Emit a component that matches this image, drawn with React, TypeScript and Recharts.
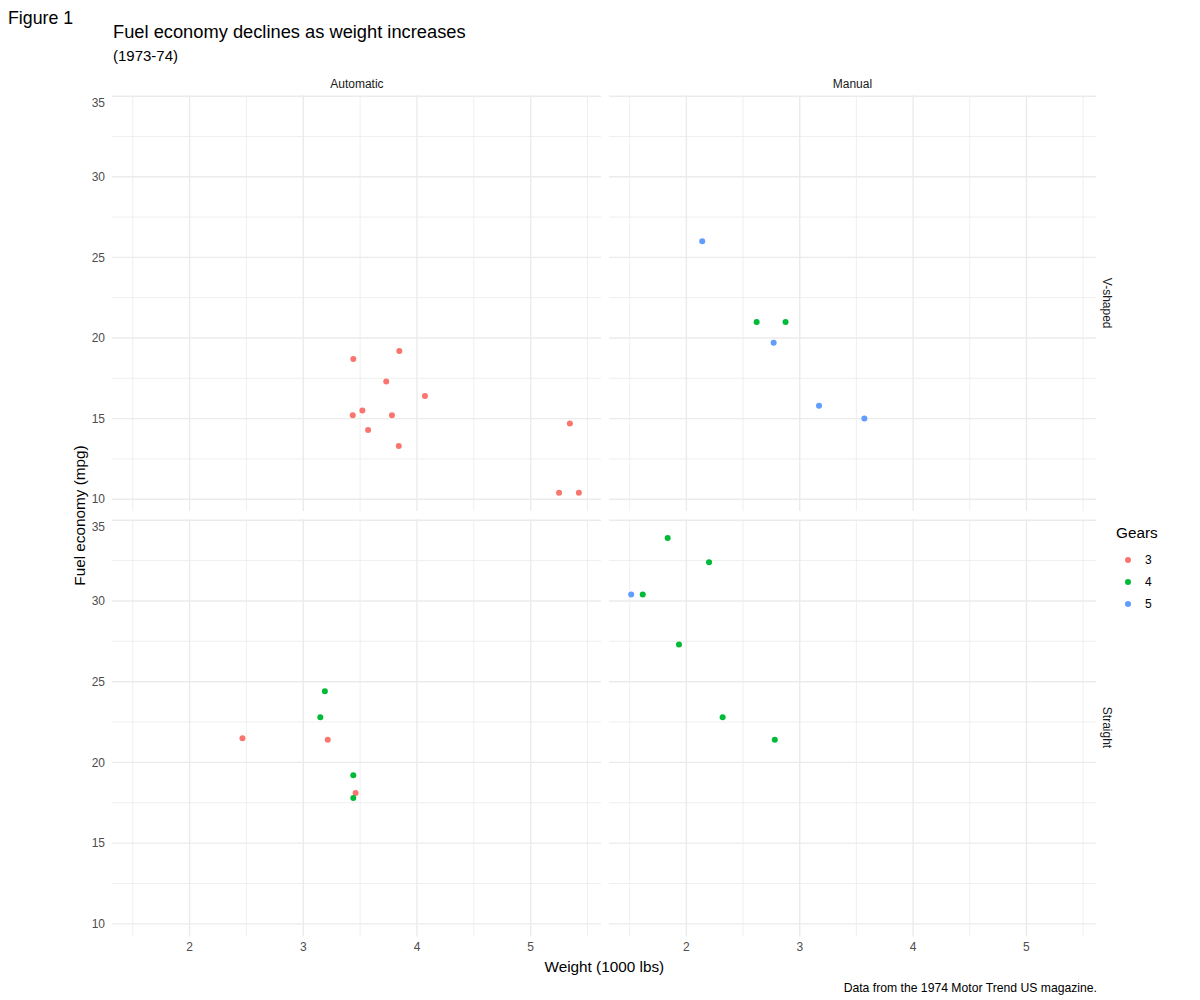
import React from "react";
import { ScatterChart, Scatter, XAxis, YAxis, ReferenceLine } from "recharts";

const carNames = [
  "Mazda RX4", "Mazda RX4 Wag", "Datsun 710", "Hornet 4 Drive", "Hornet Sportabout", "Valiant",
  "Duster 360", "Merc 240D", "Merc 230", "Merc 280", "Merc 280C", "Merc 450SE", "Merc 450SL",
  "Merc 450SLC", "Cadillac Fleetwood", "Lincoln Continental", "Chrysler Imperial", "Fiat 128",
  "Honda Civic", "Toyota Corolla", "Toyota Corona", "Dodge Challenger", "AMC Javelin", "Camaro Z28",
  "Pontiac Firebird", "Fiat X1-9", "Porsche 914-2", "Lotus Europa", "Ford Pantera L", "Ferrari Dino",
  "Maserati Bora", "Volvo 142E",
];
const weights = [
  2.62, 2.875, 2.32, 3.215, 3.44, 3.46, 3.57, 3.19, 3.15, 3.44, 3.44, 4.07, 3.73, 3.78, 5.25, 5.424,
  5.345, 2.2, 1.615, 1.835, 2.465, 3.52, 3.435, 3.84, 3.845, 1.935, 2.14, 1.513, 3.17, 2.77, 3.57, 2.78,
];
const mpgValues = [
  21.0, 21.0, 22.8, 21.4, 18.7, 18.1, 14.3, 24.4, 22.8, 19.2, 17.8, 16.4, 17.3, 15.2, 10.4, 10.4,
  14.7, 32.4, 30.4, 33.9, 21.5, 15.5, 15.2, 13.3, 19.2, 27.3, 26.0, 30.4, 15.8, 19.7, 15.0, 21.4,
];
const vsValues = [0, 0, 1, 1, 0, 1, 0, 1, 1, 1, 1, 0, 0, 0, 0, 0, 0, 1, 1, 1, 1, 0, 0, 0, 0, 1, 0, 1, 0, 0, 0, 1];
const amValues = [1, 1, 1, 0, 0, 0, 0, 0, 0, 0, 0, 0, 0, 0, 0, 0, 0, 1, 1, 1, 0, 0, 0, 0, 0, 1, 1, 1, 1, 1, 1, 1];
const gearValues = [4, 4, 4, 3, 3, 3, 3, 4, 4, 4, 4, 3, 3, 3, 3, 3, 3, 4, 4, 4, 3, 3, 3, 3, 3, 4, 5, 5, 5, 5, 5, 4];

const gearLevels = [3, 4, 5];
const gearColors = ["#F8766D", "#00BA38", "#619CFF"];
const amLabels = ["Automatic", "Manual"];
const vsLabels = ["V-shaped", "Straight"];

const xTicks = [2, 3, 4, 5];
const xMinor = [1.5, 2.5, 3.5, 4.5, 5.5];
const yTicks = [10, 15, 20, 25, 30, 35];
const yMinor = [12.5, 17.5, 22.5, 27.5, 32.5];
const xDomain = [1.3175, 5.6196];
const yDomain = [9.225, 35.075];

const FONT = "'Liberation Sans', Arial, Helvetica, sans-serif";

const cols = [
  { left: 112.4, right: 601.5 },
  { left: 608.6, right: 1096.3 },
];
const rows = [
  { top: 94.8, bottom: 511.5 },
  { top: 518.8, bottom: 936.2 },
];

function panelData(vs: number, am: number, gear: number) {
  const out: { name: string; wt: number; mpg: number }[] = [];
  for (let i = 0; i < carNames.length; i++) {
    if (vsValues[i] === vs && amValues[i] === am && gearValues[i] === gear) {
      out.push({ name: carNames[i], wt: weights[i], mpg: mpgValues[i] });
    }
  }
  return out;
}

const Dot = (color: string) => (props: any) => (
  <circle cx={props.cx} cy={props.cy} r={3} fill={color} />
);

function Panel({ r, c }: { r: number; c: number }) {
  const col = cols[c];
  const row = rows[r];
  const showY = c === 0;
  const showX = r === 1;
  const yW = showY ? 40 : 0;
  const xH = showX ? 30 : 0;
  const plotW = col.right - col.left;
  const plotH = row.bottom - row.top;
  const vs = r;
  const am = c;
  const tickStyle = { fill: "#4D4D4D", fontSize: 12, fontFamily: FONT };
  return (
    <div style={{ position: "absolute", left: col.left - yW, top: row.top }}>
      <ScatterChart
        width={plotW + yW}
        height={plotH + xH}
        margin={{ top: 0, right: 0, bottom: 0, left: 0 }}
      >
        <XAxis
          type="number"
          dataKey="wt"
          domain={xDomain}
          ticks={xTicks}
          allowDataOverflow
          hide={!showX}
          height={xH}
          axisLine={false}
          tickLine={false}
          tickSize={4}
          tickMargin={2}
          tick={tickStyle}
        />
        <YAxis
          type="number"
          dataKey="mpg"
          domain={yDomain}
          ticks={yTicks}
          allowDataOverflow
          hide={!showY}
          width={yW}
          axisLine={false}
          tickLine={false}
          tickSize={5}
          tickMargin={2}
          tick={tickStyle}
        />
        {xMinor.map((v) => (
          <ReferenceLine key={"xm" + v} x={v} stroke="#EBEBEB" strokeWidth={0.8} />
        ))}
        {yMinor.map((v) => (
          <ReferenceLine key={"ym" + v} y={v} stroke="#EBEBEB" strokeWidth={0.8} />
        ))}
        {xTicks.map((v) => (
          <ReferenceLine key={"xM" + v} x={v} stroke="#EBEBEB" strokeWidth={1.4} />
        ))}
        {yTicks.map((v) => (
          <ReferenceLine key={"yM" + v} y={v} stroke="#EBEBEB" strokeWidth={1.4} />
        ))}
        {gearLevels.map((g, gi) => (
          <Scatter
            key={g}
            name={String(g)}
            data={panelData(vs, am, g)}
            fill={gearColors[gi]}
            shape={Dot(gearColors[gi])}
            isAnimationActive={false}
          />
        ))}
      </ScatterChart>
    </div>
  );
}

export default function App() {
  const midX = (cols[0].left + cols[1].right) / 2;
  const midY = (rows[0].top + rows[1].bottom) / 2;
  return (
    <div
      style={{
        position: "absolute",
        left: 0,
        top: 0,
        width: 1200,
        height: 1000,
        background: "#FFFFFF",
        fontFamily: FONT,
      }}
    >
      {[0, 1].map((r) => [0, 1].map((c) => <Panel key={r + "-" + c} r={r} c={c} />))}
      <svg
        width={1200}
        height={1000}
        style={{ position: "absolute", left: 0, top: 0, pointerEvents: "none" }}
        fontFamily={FONT}
      >
        <text x={8} y={24} fontSize={17.8} fill="#000000">Figure 1</text>
        <text x={113} y={38} fontSize={18.3} fill="#000000">Fuel economy declines as weight increases</text>
        <text x={113} y={61} fontSize={15} fill="#000000">(1973-74)</text>
        {cols.map((col, i) => (
          <text
            key={"st" + i}
            x={(col.left + col.right) / 2}
            y={88}
            fontSize={12}
            fill="#1A1A1A"
            textAnchor="middle"
          >
            {amLabels[i]}
          </text>
        ))}
        {rows.map((row, i) => {
          const cy = (row.top + row.bottom) / 2;
          return (
            <text
              key={"sr" + i}
              x={1103}
              y={cy}
              fontSize={12}
              fill="#1A1A1A"
              textAnchor="middle"
              transform={`rotate(90 1103 ${cy})`}
            >
              {vsLabels[i]}
            </text>
          );
        })}
        <text
          x={85}
          y={midY}
          fontSize={15.3}
          fill="#000000"
          textAnchor="middle"
          transform={`rotate(-90 85 ${midY})`}
        >
          Fuel economy (mpg)
        </text>
        <text x={midX} y={972} fontSize={15.3} fill="#000000" textAnchor="middle">
          Weight (1000 lbs)
        </text>
        <text x={1097} y={992} fontSize={12.2} fill="#000000" textAnchor="end">
          Data from the 1974 Motor Trend US magazine.
        </text>
        <text x={1116} y={538} fontSize={15.3} fill="#000000">Gears</text>
        {gearLevels.map((g, i) => (
          <g key={"lg" + g}>
            <circle cx={1128} cy={560 + i * 22} r={3} fill={gearColors[i]} />
            <text x={1145} y={564 + i * 22} fontSize={12} fill="#000000">{g}</text>
          </g>
        ))}
      </svg>
    </div>
  );
}
